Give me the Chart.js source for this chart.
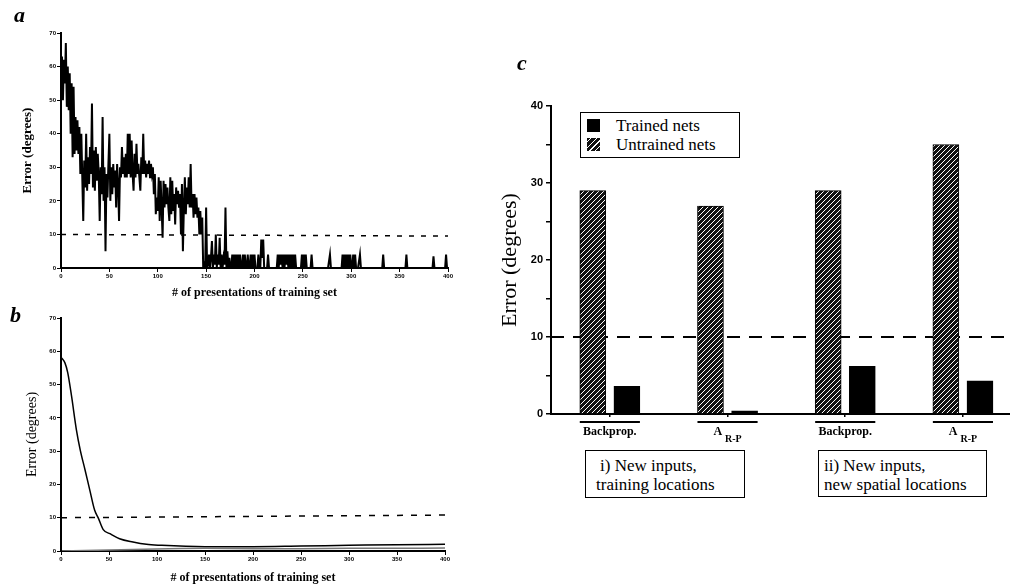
<!DOCTYPE html>
<html>
<head>
<meta charset="utf-8">
<script src="https://cdn.jsdelivr.net/npm/chart.js@4.4.1/dist/chart.umd.min.js"></script>
<style>
  html, body { margin: 0; padding: 0; background: #fff; color: #000; font-family: 'Liberation Serif', serif; }
  canvas { position: absolute; }
  #chartA { left: 0; top: 0; }
  #chartB { left: 0; top: 300px; }
  #chartC { left: 490px; top: 40px; }
  .panel { position: absolute; font: italic bold 22px 'Liberation Serif', serif; line-height: 1; }
  .legend { position: absolute; left: 580px; top: 112px; width: 160px; height: 46px; box-sizing: border-box;
            border: 1.5px solid #000; background: #fff; font-size: 17px; line-height: 19px; padding: 3px 0 0 6px; }
  .legend .row { display: flex; align-items: center; }
  .legend .sw { width: 13px; height: 13px; margin-right: 16px; }
  .sw.solid { background: #000; }
  .sw.hatch { background: repeating-linear-gradient(-45deg, #111 0 3px, #fff 3px 4px); }
  .box { position: absolute; box-sizing: border-box; border: 1.5px solid #000; background: #fff;
         font-size: 17px; line-height: 19px; padding: 5px 0 0 10px; }
</style>
</head>
<body>
<canvas id="chartA" width="470" height="300"></canvas>
<canvas id="chartB" width="470" height="287"></canvas>
<canvas id="chartC" width="520" height="420"></canvas>

<div class="panel" style="left:14px; top:4px;">a</div>
<div class="panel" style="left:10px; top:304px;">b</div>
<div class="panel" style="left:517px; top:52px;">c</div>

<div class="legend">
  <div class="row"><span class="sw solid"></span>Trained nets</div>
  <div class="row"><span class="sw hatch"></span>Untrained nets</div>
</div>

<div class="box" style="left:585px; top:450px; width:160px; height:48px;">
  <div style="padding-left:4px;">i) New inputs,</div>
  <div>training locations</div>
</div>
<div class="box" style="left:818px; top:450px; width:169px; height:47px; padding-left:5px;">
  <div>ii) New inputs,</div>
  <div>new spatial locations</div>
</div>

<script>
// ---- data ----

// panel a: error per presentation of the training set (x = index, 0..400)
const errorA = [
  52, 63, 50, 62, 55, 67, 48, 60, 47, 58, 40, 55, 33, 54, 34, 45, 35, 44, 34, 42,
  28, 40, 27, 14, 32, 24, 40, 23, 33, 25, 36, 28, 49, 24, 35, 23, 36, 26, 34, 28,
  14, 30, 22, 45, 20, 30, 5, 28, 21, 31, 40, 20, 30, 22, 31, 24, 29, 18, 31, 25,
  14, 30, 27, 36, 28, 33, 27, 34, 27, 40, 28, 40, 27, 38, 28, 23, 34, 27, 37, 28,
  31, 27, 23, 33, 28, 40, 28, 32, 27, 31, 28, 32, 27, 31, 28, 30, 22, 28, 16, 21,
  17, 27, 14, 26, 18, 9, 26, 18, 25, 19, 24, 18, 14, 27, 16, 26, 17, 22, 13, 24,
  19, 23, 18, 22, 10, 25, 5, 18, 27, 16, 24, 19, 27, 18, 31, 18, 22, 15, 22, 16,
  21, 15, 18, 10, 17, 10, 15, 0, 1, 0, 18, 0, 1, 4, 0, 3, 8, 0, 4, 1,
  10, 0, 4, 1, 9, 0, 4, 0, 3, 1, 18, 0, 5, 0, 3, 0, 0, 4, 0, 4,
  0, 4, 0, 4, 0, 4, 0, 0, 4, 0, 4, 0, 0, 4, 0, 0, 4, 0, 4, 0,
  4, 0, 0, 0, 4, 0, 0, 8.5, 3, 8.5, 0, 0, 0, 0, 4, 0, 0, 0, 0, 0,
  0, 0, 0, 0, 4, 0, 4, 1, 4, 0, 4, 0, 4, 1, 4, 0, 4, 0, 4, 0,
  4, 0, 4, 0, 0, 0, 0, 0, 0, 4, 0, 4, 0, 4, 0, 0, 0, 0, 0, 4,
  0, 0, 0, 0, 0, 0, 0, 0, 0, 0, 0, 0, 0, 0, 0, 0, 0, 0, 4, 0,
  0, 0, 0, 0, 0, 0, 0, 0, 0, 0, 0, 4, 0, 4, 0, 4, 0, 4, 0, 4,
  0, 0, 4, 0, 4, 0, 0, 0, 0, 4, 0, 0, 0, 0, 0, 0, 0, 0, 0, 0,
  0, 0, 0, 0, 0, 0, 0, 0, 0, 0, 0, 0, 0, 4, 0, 0, 0, 0, 0, 0,
  0, 0, 0, 0, 0, 0, 0, 0, 0, 0, 0, 0, 0, 0, 0, 0, 0, 4, 0, 0,
  0, 0, 0, 0, 0, 0, 0, 0, 0, 0, 0, 0, 0, 0, 0, 0, 0, 0, 0, 0,
  0, 0, 0, 0, 0, 3.5, 0, 0, 0, 0, 0, 0, 0, 0, 0, 0, 0, 0, 4, 0,
  0
];
const thresholdA = [10, 9.5];          // dashed 10-degree line, left / right end

// panel b: smooth learning curve
const curveBX = [0, 4, 7, 11, 16, 20, 25, 30, 35, 39, 44, 51, 61, 75, 89, 105, 130, 150, 200, 250, 300, 350, 400];
const curveBY = [58.2, 56.6, 53.6, 46.5, 36.5, 30.4, 24.4, 18.3, 12.3, 9.8, 6.4, 5.2, 3.7, 2.7, 2.0, 1.7, 1.4, 1.3, 1.3, 1.5, 1.7, 1.9, 2.0];
const lowerBX = [0, 50, 100, 150, 200, 250, 300, 350, 400];
const lowerBY = [0, 0.3, 0.6, 0.8, 0.7, 0.7, 0.8, 0.8, 0.9];
const thresholdB = [10, 10.8];

// panel c: generalization error
const groupNames = ['Backprop.', 'A', 'Backprop.', 'A'];
const groupSubs = ['', 'R-P', '', 'R-P'];
const untrainedNets = [29, 27, 29, 35];
const trainedNets = [3.6, 0.4, 6.2, 4.3];
const thresholdC = 10;

const xTicksAB = [0, 50, 100, 150, 200, 250, 300, 350, 400];
const yTicksAB = [0, 10, 20, 30, 40, 50, 60, 70];
const yTicksC = [0, 5, 10, 15, 20, 25, 30, 35, 40];

// ---- helpers ----

const SERIF = "'Liberation Serif', serif";
const SANS = "'Liberation Sans', sans-serif";

// solid vertical axis bar, drawn last so nothing paints over it
const yAxisLinePlugin = {
    id: 'yAxisLine',
    afterDraw(chart) {
        const y = chart.scales.y;
        const ctx = chart.ctx;
        ctx.save();
        ctx.fillStyle = '#000';
        ctx.fillRect(Math.round(y.right) - 1, y.top - 1, 2, y.bottom - y.top + 2);
        ctx.restore();
    }
};

/**
 * Shared axis setup for the two small line plots (a, b)
 */
function smallAxes(opts) {
    const tickGrid = {
        display: true,
        drawOnChartArea: false,
        drawTicks: true,
        tickLength: 4,
        color: '#000',
        lineWidth: 1
    };
    return {
        x: {
            type: 'linear',
            min: 0,
            max: 400,
            afterBuildTicks: s => { s.ticks = xTicksAB.map(v => ({ value: v })); },
            afterFit: s => { s.height = opts.xHeight; },
            ticks: { font: { family: SANS, size: 6, weight: 'bold' }, color: '#000', padding: 1, maxRotation: 0 },
            grid: tickGrid,
            border: { display: true, color: '#000', width: 2 },
            title: {
                display: true,
                text: '# of presentations of training set',
                font: { family: SERIF, size: 12, weight: 'bold' },
                color: '#000',
                padding: 0
            }
        },
        y: {
            min: 0,
            max: 70,
            afterBuildTicks: s => { s.ticks = yTicksAB.map(v => ({ value: v })); },
            afterFit: s => { s.width = opts.yWidth; },
            ticks: { font: { family: SANS, size: 6, weight: 'bold' }, color: '#000', padding: 1 },
            grid: tickGrid,
            border: { display: true, color: '#000', width: 2 },
            title: {
                display: true,
                text: 'Error (degrees)',
                font: { family: SERIF, size: opts.yTitleSize, weight: opts.yTitleWeight },
                color: '#000',
                padding: 0
            }
        }
    };
}

const baseOptions = {
    responsive: false,
    animation: false,
    events: [],
    plugins: { legend: { display: false }, tooltip: { enabled: false } }
};

// ---- panel a ----

new Chart(document.getElementById('chartA'), {
    type: 'line',
    data: {
        datasets: [
            {
                data: errorA.map((v, i) => ({ x: i, y: v })),
                borderColor: '#000',
                borderWidth: 2,
                pointRadius: 0,
                tension: 0
            },
            {
                data: [{ x: 0, y: thresholdA[0] }, { x: 400, y: thresholdA[1] }],
                borderColor: '#000',
                borderWidth: 1.5,
                borderDash: [5, 7],
                pointRadius: 0
            }
        ]
    },
    options: Object.assign({}, baseOptions, {
        layout: { padding: { left: 20, top: 33, right: 22, bottom: 0 } },
        scales: smallAxes({ xHeight: 32, yWidth: 41, yTitleSize: 13, yTitleWeight: 'bold' })
    }),
    plugins: [yAxisLinePlugin]
});

// ---- panel b ----

new Chart(document.getElementById('chartB'), {
    type: 'line',
    data: {
        datasets: [
            {
                data: lowerBX.map((x, i) => ({ x: x, y: lowerBY[i] })),
                borderColor: '#777',
                borderWidth: 1.5,
                pointRadius: 0,
                tension: 0.3
            },
            {
                data: curveBX.map((x, i) => ({ x: x, y: curveBY[i] })),
                borderColor: '#000',
                borderWidth: 1.5,
                pointRadius: 0,
                cubicInterpolationMode: 'monotone'
            },
            {
                data: [{ x: 0, y: thresholdB[0] }, { x: 400, y: thresholdB[1] }],
                borderColor: '#000',
                borderWidth: 1.5,
                borderDash: [6, 8],
                pointRadius: 0
            }
        ]
    },
    options: Object.assign({}, baseOptions, {
        layout: { padding: { left: 24, top: 18, right: 25, bottom: 2 } },
        scales: smallAxes({ xHeight: 34, yWidth: 37, yTitleSize: 14, yTitleWeight: 'normal' })
    }),
    plugins: [yAxisLinePlugin]
});

// ---- panel c ----

const BAR_SHIFT = 0.145;   // half distance between the two bars of a group, in group units
const BAR_WIDTH = 26;

function makeHatch() {
    const tile = document.createElement('canvas');
    tile.width = 5;
    tile.height = 5;
    const g = tile.getContext('2d');
    g.fillStyle = '#111';
    g.fillRect(0, 0, 5, 5);
    g.strokeStyle = '#fff';
    g.lineWidth = 1;
    g.beginPath();
    g.moveTo(-1, 6); g.lineTo(6, -1);
    g.moveTo(-1, 1); g.lineTo(1, -1);
    g.moveTo(4, 6); g.lineTo(6, 4);
    g.stroke();
    return g.createPattern(tile, 'repeat');
}

// underline + algorithm name below each pair of bars
const groupLabelPlugin = {
    id: 'groupLabels',
    afterDraw(chart) {
        const { ctx, chartArea, scales } = chart;
        const x = scales.x;
        ctx.save();
        ctx.fillStyle = '#000';
        ctx.strokeStyle = '#000';
        groupNames.forEach((name, i) => {
            const left = x.getPixelForValue(i - BAR_SHIFT) - BAR_WIDTH / 2;
            const right = x.getPixelForValue(i + BAR_SHIFT) + BAR_WIDTH / 2;
            const lineY = chartArea.bottom + 8;
            ctx.lineWidth = 2;
            ctx.beginPath();
            ctx.moveTo(left, lineY);
            ctx.lineTo(right, lineY);
            ctx.stroke();

            const mid = x.getPixelForValue(i);
            const textY = chartArea.bottom + 18;
            ctx.textBaseline = 'middle';
            ctx.font = "bold 12px " + SERIF;
            const w1 = ctx.measureText(name).width;
            let w2 = 0;
            if (groupSubs[i]) {
                ctx.font = "bold 10px " + SERIF;
                w2 = ctx.measureText(groupSubs[i]).width + 3;
            }
            const start = mid - (w1 + w2) / 2;
            ctx.textAlign = 'left';
            ctx.font = "bold 12px " + SERIF;
            ctx.fillText(name, start, textY);
            if (groupSubs[i]) {
                ctx.font = "bold 10px " + SERIF;
                ctx.fillText(groupSubs[i], start + w1 + 3, textY + 7);
            }
        });
        ctx.restore();
    }
};

new Chart(document.getElementById('chartC'), {
    type: 'bar',
    data: {
        datasets: [
            {
                label: 'Untrained nets',
                data: untrainedNets.map((v, i) => ({ x: i - BAR_SHIFT, y: v })),
                backgroundColor: makeHatch(),
                borderColor: '#000',
                borderWidth: 1,
                grouped: false,
                barThickness: BAR_WIDTH
            },
            {
                label: 'Trained nets',
                data: trainedNets.map((v, i) => ({ x: i + BAR_SHIFT, y: v })),
                backgroundColor: '#000',
                borderColor: '#000',
                borderWidth: 1,
                grouped: false,
                barThickness: BAR_WIDTH
            },
            {
                type: 'line',
                label: 'threshold',
                data: [{ x: -0.5, y: thresholdC }, { x: 3.4, y: thresholdC }],
                borderColor: '#000',
                borderWidth: 2,
                borderDash: [13, 9],
                pointRadius: 0
            }
        ]
    },
    options: Object.assign({}, baseOptions, {
        layout: { padding: { left: 7, top: 66, right: 0, bottom: 0 } },
        scales: {
            x: {
                type: 'linear',
                offset: false,
                min: -0.5,
                max: 3.4,
                afterBuildTicks: s => { s.ticks = [{ value: 0.5 }, { value: 1.5 }, { value: 2.5 }]; },
                afterFit: s => { s.height = 46; },
                ticks: { callback: () => '' },
                grid: { display: true, drawOnChartArea: false, tickLength: 3, color: '#000', lineWidth: 1.5 },
                border: { display: true, color: '#000', width: 2 }
            },
            y: {
                min: 0,
                max: 40,
                afterBuildTicks: s => { s.ticks = yTicksC.map(v => ({ value: v })); },
                afterFit: s => { s.width = 54; },
                ticks: {
                    callback: v => (v % 10 === 0 ? v : ''),
                    font: { family: SANS, size: 11, weight: 'bold' },
                    color: '#000',
                    padding: 3
                },
                grid: {
                    display: true,
                    drawOnChartArea: false,
                    tickLength: 5,
                    color: '#000',
                    lineWidth: 1.5
                },
                border: { display: true, color: '#000', width: 2 },
                title: {
                    display: true,
                    text: 'Error (degrees)',
                    font: { family: SERIF, size: 22 },
                    color: '#000',
                    padding: 0
                }
            }
        }
    }),
    plugins: [groupLabelPlugin, yAxisLinePlugin]
});
</script>
</body>
</html>
